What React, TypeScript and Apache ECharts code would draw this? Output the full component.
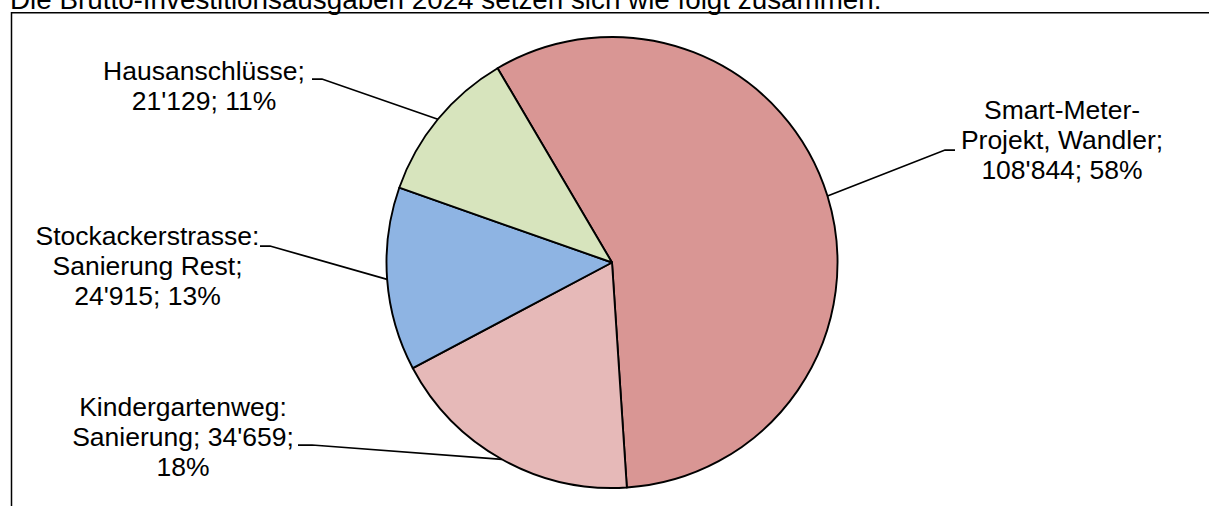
import React, { useEffect, useRef } from "react";
import * as echarts from "echarts";

// ---- data ----
const categories = [
  "Smart-Meter-\nProjekt, Wandler",
  "Kindergartenweg:\nSanierung",
  "Stockackerstrasse:\nSanierung Rest",
  "Hausanschlüsse",
];
const values = [108844, 34659, 24915, 21129];
const colors = ["#D99694", "#E6B9B8", "#8EB4E3", "#D7E4BD"];
const nameSeparators = [";\n", "; ", ";\n", ";\n"];
const valueSeparators = ["; ", ";\n", "; ", "; "];
const titleText = "Die Brutto-Investitionsausgaben 2024 setzen sich wie folgt zusammen:";

// ---- layout ----
const W = 1209;
const H = 506;
const CX = 612;
const CY = 262.5;
const R = 225.5;
const START = 120.5;
const FONT = "Liberation Sans";
const labelCenters = [
  [1062, 140.3],
  [183, 436.8],
  [147.5, 265.8],
  [204, 86.2],
];
const leaderEnds = [
  [[945, 150], [955, 150]],
  [[312, 445], [298, 445]],
  [[270, 246], [260, 246]],
  [[322, 79], [312, 79]],
];

const fmt = (v: number) => String(v).replace(/\B(?=(\d{3})+(?!\d))/g, "'");

export default function App() {
  const ref = useRef<HTMLDivElement>(null);
  useEffect(() => {
    if (!ref.current) return;
    const chart = echarts.init(ref.current, null, { renderer: "svg" });
    const total = values.reduce((a, b) => a + b, 0);
    const edgePoint = (i: number) => {
      let cum = 0;
      for (let k = 0; k < i; k++) cum += values[k];
      const a = ((START - ((cum + values[i] / 2) / total) * 360) * Math.PI) / 180;
      return [CX + R * Math.cos(a), CY - R * Math.sin(a)];
    };
    chart.setOption({
      animation: false,
      graphic: [
        {
          type: "text",
          x: 10,
          y: -0.8,
          style: {
            text: titleText,
            fontSize: 27.8,
            fontFamily: FONT,
            fill: "#000",
            align: "left",
            verticalAlign: "middle",
          },
        },
        {
          type: "polyline",
          shape: { points: [[11.5, H], [11.5, 12.75], [W, 12.75]] },
          style: { stroke: "#000", lineWidth: 1.5, fill: null },
        },
      ],
      series: [
        {
          type: "pie",
          center: [CX, CY],
          radius: R,
          startAngle: START,
          clockwise: true,
          avoidLabelOverlap: false,
          percentPrecision: 0,
          itemStyle: { borderColor: "#000", borderWidth: 1.9 },
          emphasis: { disabled: true },
          label: {
            show: true,
            position: "outside",
            fontFamily: FONT,
            fontSize: 26.5,
            lineHeight: 30,
            color: "#000",
            align: "center",
            formatter: (p: any) =>
              p.name +
              nameSeparators[p.dataIndex] +
              fmt(p.value) +
              valueSeparators[p.dataIndex] +
              p.percent +
              "%",
          },
          labelLine: {
            show: true,
            smooth: false,
            lineStyle: { color: "#000", width: 1.75 },
          },
          labelLayout: (params: any) => {
            const i = params.dataIndex;
            const p0 = edgePoint(i);
            return {
              x: labelCenters[i][0],
              y: labelCenters[i][1],
              align: "center",
              verticalAlign: "middle",
              labelLinePoints: [p0, leaderEnds[i][0], leaderEnds[i][1]],
            };
          },
          data: values.map((v, i) => ({
            name: categories[i],
            value: v,
            itemStyle: { color: colors[i] },
          })),
        },
      ],
    });
    return () => chart.dispose();
  }, []);
  return (
    <div
      ref={ref}
      style={{ position: "absolute", left: 0, top: 0, width: W, height: H, background: "#fff" }}
    />
  );
}
